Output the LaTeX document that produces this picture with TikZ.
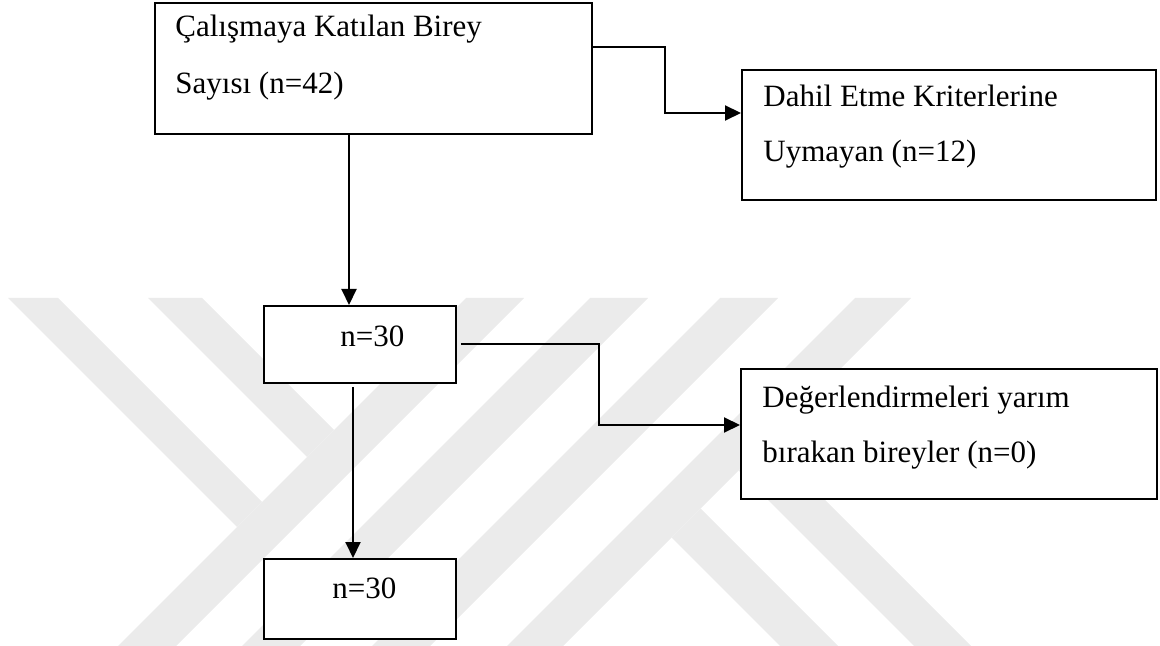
\documentclass[tikz,border=0pt]{standalone}
\usepackage{fontspec}
\setmainfont{Liberation Serif}
\usepackage{tikz}
\usetikzlibrary{arrows.meta}

\begin{document}
\begin{tikzpicture}[x=0.5pt,y=-0.5pt,
    kutu/.style={draw,line width=0.9pt,fill=white,anchor=north west,inner sep=0pt},
    yazi/.style={anchor=base west,inner sep=0pt,font=\fontsize{15.5}{18}\selectfont},
    ok/.style={line width=1pt,-{Triangle[length=8pt,width=7.5pt]}},
    iz/.style={fill=black!8}]
  \useasboundingbox (0,0) rectangle (1160,646);
  % soluk arka plan logosu
  \fill[iz] (8,298) -- (58,298) -- (262,502) -- (237,527) -- cycle;        % Y sol kol
  \fill[iz] (148,298) -- (202,298) -- (334,430) -- (307,457) -- cycle;     % Y sol kol
  \fill[iz] (466,298) -- (524,298) -- (176,646) -- (118,646) -- cycle;     % Y govde
  \fill[iz] (590,298) -- (648,298) -- (300,646) -- (242,646) -- cycle;     % Y govde
  \fill[iz] (720,298) -- (778,298) -- (430,646) -- (372,646) -- cycle;     % K govde
  \fill[iz] (855,298) -- (911,298) -- (563,646) -- (507,646) -- cycle;     % K govde
  \fill[iz] (767,442) -- (971,646) -- (914,646) -- (738.5,470.5) -- cycle; % K bacak
  \fill[iz] (700.5,508.5) -- (838,646) -- (780,646) -- (671.5,537.5) -- cycle; % K bacak
  % kutular
  \node[kutu,minimum width=218.5pt,minimum height=65.5pt] (b1) at (154,2) {};
  \node[kutu,minimum width=207pt,minimum height=65pt] (b2) at (741,69) {};
  \node[kutu,minimum width=96pt,minimum height=38.5pt] (b3) at (263,305) {};
  \node[kutu,minimum width=208pt,minimum height=65pt] (b4) at (740,368) {};
  \node[kutu,minimum width=96pt,minimum height=40pt] (b5) at (263,558) {};
  % yazilar
  \node[yazi] (b1a) at (175,37) {Çalışmaya Katılan Birey};
  \node[yazi] (b1b) at (175,94) {Sayısı (n=42)};
  \node[yazi] (b2a) at (763,107) {Dahil Etme Kriterlerine};
  \node[yazi] (b2b) at (763,162) {Uymayan (n=12)};
  \node[yazi] (b3a) at (340,346) {n=30};
  \node[yazi] (b4a) at (762,407) {Değerlendirmeleri yarım};
  \node[yazi] (b4b) at (762,462) {bırakan bireyler (n=0)};
  \node[yazi] (b5a) at (332,598) {n=30};
  % oklar
  \draw[ok] (b1.east |- 0,47) -| (665,113) -- (b2.west |- 0,113);
  \draw[ok] (b1.south -| 349,0) -- (b3.north -| 349,0);
  \draw[ok] ([xshift=2pt]b3.east) -| (599,425) -- (b4.west |- 0,425);
  \draw[ok] (b3.south -| 353,0) ++(0,3) -- (b5.north -| 353,0);
\end{tikzpicture}
\end{document}
